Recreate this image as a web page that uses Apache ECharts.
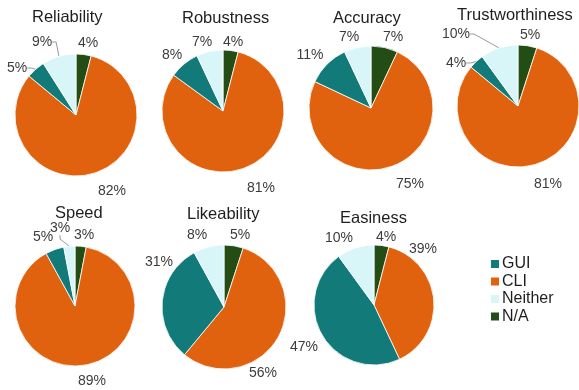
<!DOCTYPE html>
<html>
<head>
<meta charset="utf-8">
<script src="https://cdn.jsdelivr.net/npm/echarts@6/dist/echarts.min.js"></script>
<style>
html,body{margin:0;padding:0;background:#fff;}
#c{width:579px;height:390px;}
</style>
</head>
<body>
<div id="c"></div>
<script>
// Categories (legend order) and slice order (clockwise from 12 o'clock)
const categories = ['GUI', 'CLI', 'Neither', 'N/A'];
const sliceOrder = ['N/A', 'CLI', 'GUI', 'Neither'];
const chartTitles = ['Reliability', 'Robustness', 'Accuracy', 'Trustworthiness', 'Speed', 'Likeability', 'Easiness'];

// Percent values per chart: [GUI, CLI, Neither, N/A]
const reliability     = [5, 82, 9, 4];
const robustness      = [8, 81, 7, 4];
const accuracy        = [11, 75, 7, 7];
const trustworthiness = [4, 81, 10, 5];
const speed           = [5, 89, 3, 3];
const likeability     = [31, 56, 8, 5];
const easiness        = [47, 39, 10, 4];

const allValues = [reliability, robustness, accuracy, trustworthiness, speed, likeability, easiness];

const colors = { 'GUI': '#137a7a', 'CLI': '#e0620f', 'Neither': '#d8f6f8', 'N/A': '#234d14' };

// ---- layout (not data) ----
const centers = [[76, 115], [223, 111], [371, 108], [518, 106], [75, 306], [224, 307], [374, 305]];
const radii = [61, 61, 62, 61, 60, 62, 60];
const titlePos = [[32, 9], [182, 10], [333, 10], [457, 7], [55, 205], [187, 206], [340, 210]];
// label offsets from pie centre, in slice order [N/A, CLI, GUI, Neither]
const labelOffsets = [
  [[12, -72], [36, 76], [-59, -47], [-34, -73]],
  [[10, -69], [38, 77], [-51, -56], [-21, -69]],
  [[22, -71], [39, 76], [-61, -53], [-22, -71]],
  [[12, -71], [30, 78], [-62, -43], [-62, -72]],
  [[9, -71], [17, 75], [-32, -69], [-15, -78]],
  [[16, -72], [39, 66], [-65, -45], [-27, -72]],
  [[12, -68], [49, -56], [-70, 42], [-35, -67]]
];
// which labels get a leader line
const leader = [['GUI', 'Neither'], [], [], ['GUI', 'Neither'], ['Neither'], [], []];

const font = 'Arial, "Liberation Sans", sans-serif';

const series = allValues.map((vals, i) => ({
  type: 'pie',
  name: chartTitles[i],
  center: centers[i],
  radius: radii[i],
  startAngle: 90,
  clockwise: true,
  avoidLabelOverlap: false,
  animation: false,
  itemStyle: { borderColor: '#ffffff', borderWidth: 0.8 },
  label: {
    show: true, position: 'outside', formatter: '{c}%',
    fontFamily: font, fontSize: 14, color: '#3c3c3c'
  },
  labelLine: { show: false, length: 6, length2: 4, lineStyle: { color: '#9a9a9a', width: 1 } },
  labelLayout: function (p) {
    const off = labelOffsets[i][p.dataIndex];
    return { x: centers[i][0] + off[0], y: centers[i][1] + off[1], align: 'center', verticalAlign: 'middle' };
  },
  emphasis: { disabled: true },
  data: sliceOrder.map(name => ({
    name: name,
    value: vals[categories.indexOf(name)],
    itemStyle: { color: colors[name] },
    labelLine: { show: leader[i].indexOf(name) >= 0 }
  }))
}));

const chart = echarts.init(document.getElementById('c'), null, { renderer: 'canvas' });
chart.setOption({
  backgroundColor: '#ffffff',
  title: chartTitles.map((t, i) => ({
    text: t, left: titlePos[i][0], top: titlePos[i][1], padding: 0,
    textStyle: { fontFamily: font, fontSize: 16.5, fontWeight: 'normal', color: '#1e1e1e' }
  })),
  legend: {
    data: categories, orient: 'vertical', left: 489, top: 256, padding: 0,
    itemWidth: 10, itemHeight: 10, itemGap: 1.5, icon: 'rect',
    textStyle: { fontFamily: font, fontSize: 16, color: '#1e1e1e', padding: [0, 0, 0, -3] },
    selectedMode: false
  },
  series: series
});
</script>
</body>
</html>
